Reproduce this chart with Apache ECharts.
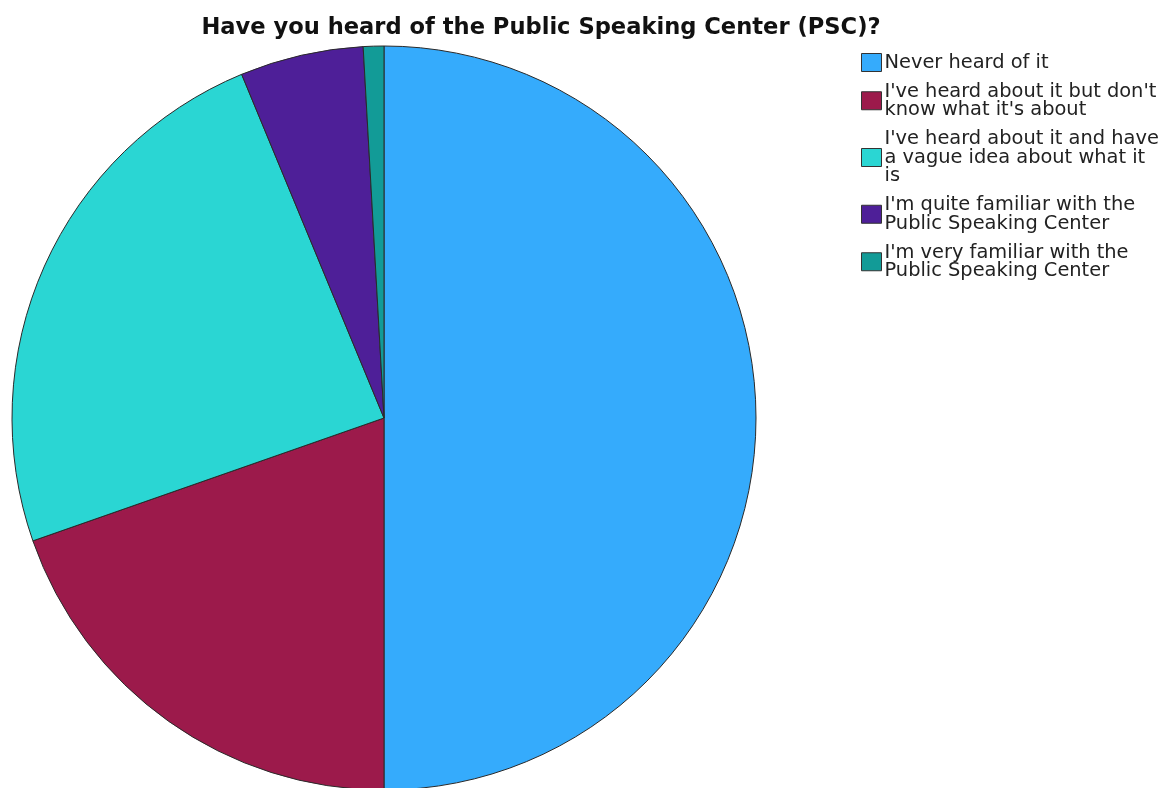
<!DOCTYPE html>
<html>
<head>
<meta charset="utf-8">
<script src="https://cdn.jsdelivr.net/npm/echarts@6/dist/echarts.min.js"></script>
<style>
html,body{margin:0;padding:0;background:#fff;}
#chart{width:1169px;height:788px;}
</style>
</head>
<body>
<div id="chart"></div>
<script>
const titleText = "Have you heard of the Public Speaking Center (PSC)?";
const categories = [
  "Never heard of it",
  "I've heard about it but don't know what it's about",
  "I've heard about it and have a vague idea about what it is",
  "I'm quite familiar with the Public Speaking Center",
  "I'm very familiar with the Public Speaking Center"
];
const legendLines = [
  "Never heard of it",
  "I've heard about it but don't\nknow what it's about",
  "I've heard about it and have\na vague idea about what it\nis",
  "I'm quite familiar with the\nPublic Speaking Center",
  "I'm very familiar with the\nPublic Speaking Center"
];
const counts = [56, 22, 27, 6, 1];
const colors = ["#35ABFC", "#9C1A4B", "#2AD6D3", "#4E1F98", "#129B97"];

const chart = echarts.init(document.getElementById('chart'), null, {renderer: 'canvas'});
chart.setOption({
  animation: false,
  backgroundColor: '#ffffff',
  title: {
    text: titleText,
    left: 536,
    textAlign: 'center',
    top: 12,
    textStyle: {fontFamily: 'DejaVu Sans', fontWeight: 'bold', fontSize: 22.6, color: '#111'}
  },
  legend: {
    orient: 'vertical',
    left: 856,
    top: 48,
    itemWidth: 20,
    itemHeight: 18,
    itemGap: 10,
    icon: 'rect',
    data: categories,
    formatter: function (name) { return legendLines[categories.indexOf(name)]; },
    itemStyle: {borderColor: '#333', borderWidth: 1},
    textStyle: {fontFamily: 'DejaVu Sans', fontSize: 19.4, lineHeight: 18.5, color: '#222', padding: [0,0,0,-2]}
  },
  series: [{
    type: 'pie',
    center: [384, 418],
    radius: 372,
    startAngle: 90,
    clockwise: true,
    label: {show: false},
    labelLine: {show: false},
    emphasis: {disabled: true},
    itemStyle: {borderColor: '#2a2a2a', borderWidth: 1},
    data: categories.map((c, i) => ({name: c, value: counts[i], itemStyle: {color: colors[i]}}))
  }]
});
</script>
</body>
</html>
